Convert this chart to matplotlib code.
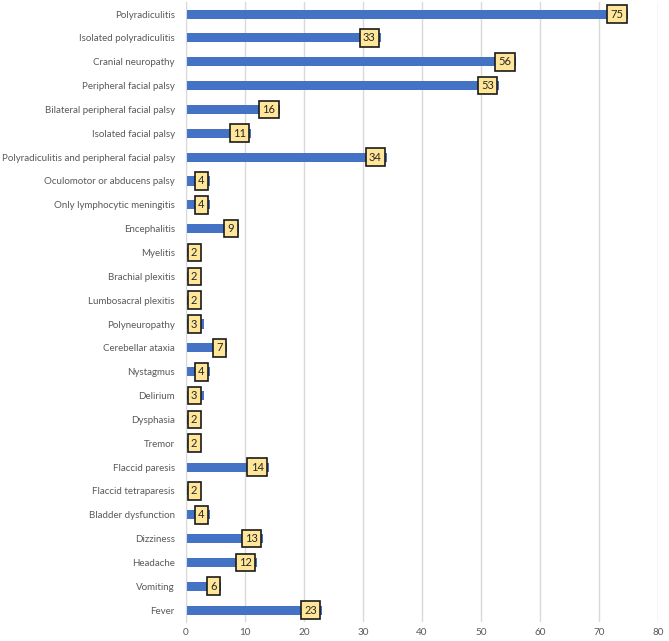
import matplotlib
matplotlib.use("Agg")
import matplotlib.pyplot as plt

categories = [
    "Polyradiculitis", "Isolated polyradiculitis", "Cranial neuropathy",
    "Peripheral facial palsy", "Bilateral peripheral facial palsy",
    "Isolated facial palsy", "Polyradiculitis and peripheral facial palsy",
    "Oculomotor or abducens palsy", "Only lymphocytic meningitis",
    "Encephalitis", "Myelitis", "Brachial plexitis", "Lumbosacral plexitis",
    "Polyneuropathy", "Cerebellar ataxia", "Nystagmus", "Delirium",
    "Dysphasia", "Tremor", "Flaccid paresis", "Flaccid tetraparesis",
    "Bladder dysfunction", "Dizziness", "Headache", "Vomiting", "Fever",
]
values = [75, 33, 56, 53, 16, 11, 34, 4, 4, 9, 2, 2, 2, 3, 7, 4, 3, 2, 2,
          14, 2, 4, 13, 12, 6, 23]
xticks = [0, 10, 20, 30, 40, 50, 60, 70, 80]

plt.rcParams["font.family"] = ["Lato", "DejaVu Sans"]
BLUE = "#4472C4"
GREY = "#595959"

fig = plt.figure(figsize=(6.69, 6.41), dpi=100)
ax = fig.add_axes([0.278, 0.0296, 0.7055, 0.967])

y = list(range(len(categories)))
ax.barh(y, values, height=0.38, color=BLUE, zorder=2)
ax.set_yticks(y)
ax.set_yticklabels(categories)
ax.set_ylim(len(categories) - 0.5, -0.5)
ax.set_xlim(0, 80)
ax.set_xticks(xticks)

# data labels: inside end, pushed right of zero when the bar is too short
for yi, v in zip(y, values):
    box = dict(boxstyle="square,pad=0.3", fc="#FFE699", ec="#1a1a1a", lw=1.2)
    if v <= 3:
        ax.annotate(str(v), xy=(0, yi), xytext=(3.5, 0), textcoords="offset points",
                    ha="left", va="center", fontsize=8, color="#262626",
                    bbox=box, zorder=3)
    else:
        ax.annotate(str(v), xy=(v, yi), xytext=(-3.5, 0), textcoords="offset points",
                    ha="right", va="center", fontsize=8, color="#262626",
                    bbox=box, zorder=3)

ax.xaxis.grid(True, color="#d9d9d9", linewidth=1.0, zorder=0)
for s in ["top", "right", "bottom"]:
    ax.spines[s].set_visible(False)
ax.spines["left"].set_color("#d9d9d9")
ax.tick_params(axis="x", length=0, labelsize=7.2, colors=GREY, pad=4)
ax.tick_params(axis="y", length=0, labelsize=7, colors=GREY, pad=8)

fig.savefig("out.png", dpi=100)
